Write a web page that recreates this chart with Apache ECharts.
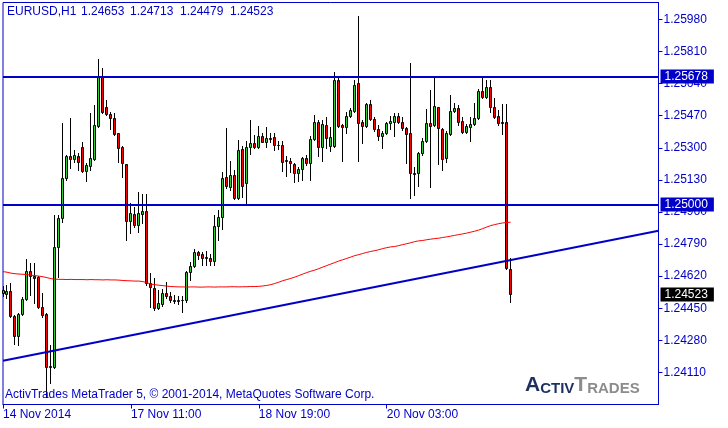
<!DOCTYPE html>
<html><head><meta charset="utf-8">
<script src="https://cdn.jsdelivr.net/npm/echarts@6/dist/echarts.min.js"></script>
<style>html,body{margin:0;padding:0;background:#fff}#c{width:728px;height:428px}</style>
</head><body><div id="c"></div>
<script>
const symbolName = 'EURUSD,H1';
const copyrightText = 'ActivTrades MetaTrader 5, \u00a9 2001-2014, MetaQuotes Software Corp.';

const opens = [1.24530,1.24525,1.24541,1.24408,1.24302,1.24419,1.24498,1.24646,1.24620,1.24615,
1.24456,1.24419,1.24138,1.24138,1.24774,1.24927,1.25139,1.25256,1.25240,1.25256,
1.25303,1.25176,1.25203,1.25240,1.25415,1.25679,1.25515,1.25478,1.25457,1.25377,
1.25303,1.25213,1.24911,1.24948,1.24890,1.24948,1.24964,1.24583,1.24556,1.24451,
1.24472,1.24530,1.24514,1.24493,1.24488,1.24493,1.24493,1.24641,1.24673,1.24747,
1.24737,1.24715,1.24715,1.24700,1.24885,1.24933,1.25144,1.25092,1.25155,1.25033,
1.25293,1.25113,1.25303,1.25324,1.25303,1.25362,1.25330,1.25346,1.25356,1.25314,
1.25314,1.25229,1.25229,1.25213,1.25166,1.25187,1.25245,1.25219,1.25346,1.25436,
1.25303,1.25420,1.25309,1.25309,1.25658,1.25420,1.25409,1.25468,1.25494,1.25642,
1.25436,1.25415,1.25531,1.25452,1.25399,1.25362,1.25377,1.25430,1.25436,1.25468,
1.25436,1.25404,1.25377,1.25166,1.25166,1.25272,1.25335,1.25430,1.25420,1.25515,
1.25399,1.25245,1.25372,1.25494,1.25510,1.25441,1.25383,1.25409,1.25425,1.25457,
1.25600,1.25568,1.25621,1.25515,1.25468,1.25436,1.25436,1.24653];

const highs = [1.24567,1.24572,1.24583,1.24413,1.24424,1.24509,1.24710,1.24689,1.24689,1.24620,
1.24530,1.24424,1.24254,1.24943,1.24943,1.25430,1.25261,1.25457,1.25287,1.25272,
1.25330,1.25219,1.25483,1.25526,1.25770,1.25722,1.25552,1.25489,1.25483,1.25377,
1.25309,1.25213,1.25007,1.24985,1.25065,1.25054,1.25054,1.24636,1.24609,1.24546,
1.24551,1.24588,1.24535,1.24519,1.24514,1.24514,1.24646,1.24694,1.24763,1.24752,
1.24747,1.24752,1.24737,1.24943,1.24970,1.25171,1.25404,1.25229,1.25182,1.25340,
1.25309,1.25335,1.25446,1.25367,1.25415,1.25377,1.25409,1.25377,1.25377,1.25335,
1.25335,1.25256,1.25245,1.25219,1.25197,1.25250,1.25261,1.25362,1.25473,1.25446,
1.25446,1.25462,1.25409,1.25701,1.25679,1.25425,1.25489,1.25510,1.25658,1.25997,
1.25446,1.25536,1.25552,1.25462,1.25420,1.25388,1.25436,1.25468,1.25483,1.25483,
1.25462,1.25409,1.25748,1.25197,1.25277,1.25351,1.25505,1.25605,1.25674,1.25515,
1.25404,1.25388,1.25579,1.25536,1.25526,1.25462,1.25425,1.25462,1.25536,1.25611,
1.25674,1.25658,1.25658,1.25563,1.25499,1.25531,1.25531,1.24713];

const lows = [1.24514,1.24504,1.24403,1.24260,1.24254,1.24413,1.24493,1.24519,1.24477,1.24451,
1.24403,1.23979,1.24053,1.24133,1.24615,1.24906,1.25129,1.25192,1.25224,1.25182,
1.25171,1.25123,1.25182,1.25235,1.25409,1.25483,1.25473,1.25399,1.25367,1.25224,
1.25144,1.24811,1.24848,1.24880,1.24853,1.24901,1.24572,1.24456,1.24440,1.24445,
1.24461,1.24504,1.24482,1.24477,1.24472,1.24429,1.24482,1.24599,1.24668,1.24710,
1.24678,1.24678,1.24678,1.24678,1.24811,1.24869,1.25086,1.25076,1.25028,1.25028,
1.25039,1.25007,1.25266,1.25298,1.25298,1.25330,1.25303,1.25330,1.25287,1.25293,
1.25176,1.25150,1.25171,1.25118,1.25123,1.25129,1.25208,1.25129,1.25340,1.25256,
1.25229,1.25298,1.25282,1.25303,1.25409,1.25229,1.25377,1.25462,1.25489,1.25229,
1.25324,1.25409,1.25446,1.25388,1.25340,1.25298,1.25372,1.25399,1.25362,1.25430,
1.25393,1.25219,1.25033,1.25049,1.25097,1.25261,1.25330,1.25092,1.25415,1.25213,
1.25182,1.25224,1.25367,1.25489,1.25420,1.25377,1.25377,1.25335,1.25420,1.25452,
1.25563,1.25563,1.25489,1.25457,1.25420,1.25372,1.24657,1.24479];

const closes = [1.24546,1.24541,1.24408,1.24302,1.24419,1.24498,1.24646,1.24620,1.24609,1.24456,
1.24413,1.24138,1.24143,1.24774,1.24927,1.25139,1.25256,1.25240,1.25261,1.25224,
1.25176,1.25208,1.25245,1.25420,1.25679,1.25489,1.25478,1.25457,1.25372,1.25298,
1.25219,1.24911,1.24954,1.24890,1.24954,1.24964,1.24583,1.24562,1.24451,1.24477,
1.24530,1.24514,1.24493,1.24488,1.24493,1.24491,1.24641,1.24673,1.24747,1.24731,
1.24715,1.24721,1.24700,1.24885,1.24933,1.25139,1.25097,1.25155,1.25033,1.25287,
1.25097,1.25303,1.25324,1.25303,1.25362,1.25330,1.25351,1.25351,1.25314,1.25311,
1.25224,1.25232,1.25219,1.25166,1.25187,1.25245,1.25219,1.25346,1.25436,1.25303,
1.25425,1.25351,1.25356,1.25658,1.25415,1.25409,1.25468,1.25499,1.25632,1.25430,
1.25415,1.25531,1.25452,1.25399,1.25362,1.25377,1.25430,1.25441,1.25468,1.25436,
1.25404,1.25372,1.25166,1.25160,1.25272,1.25335,1.25430,1.25415,1.25521,1.25404,
1.25240,1.25377,1.25494,1.25510,1.25436,1.25383,1.25415,1.25425,1.25457,1.25600,
1.25568,1.25621,1.25515,1.25462,1.25430,1.25430,1.24662,1.24523];

const movingAverage = [1.24644,1.24641,1.24636,1.24633,1.24631,1.24630,1.24628,1.24625,1.24623,1.24620,
1.24617,1.24612,1.24607,1.24604,1.24603,1.24603,1.24602,1.24603,1.24602,1.24602,
1.24602,1.24601,1.24602,1.24601,1.24601,1.24600,1.24601,1.24600,1.24600,1.24599,
1.24597,1.24596,1.24595,1.24594,1.24594,1.24591,1.24586,1.24578,1.24575,1.24572,
1.24570,1.24567,1.24565,1.24564,1.24563,1.24563,1.24562,1.24563,1.24563,1.24562,
1.24562,1.24563,1.24563,1.24562,1.24563,1.24563,1.24563,1.24564,1.24564,1.24563,
1.24564,1.24564,1.24565,1.24565,1.24566,1.24568,1.24571,1.24575,1.24581,1.24588,
1.24596,1.24602,1.24608,1.24615,1.24623,1.24631,1.24639,1.24646,1.24652,1.24660,
1.24668,1.24676,1.24684,1.24692,1.24700,1.24707,1.24714,1.24721,1.24729,1.24734,
1.24740,1.24746,1.24751,1.24755,1.24760,1.24766,1.24771,1.24775,1.24777,1.24782,
1.24787,1.24792,1.24797,1.24803,1.24807,1.24809,1.24813,1.24816,1.24819,1.24821,
1.24825,1.24828,1.24832,1.24836,1.24840,1.24844,1.24848,1.24853,1.24858,1.24864,
1.24872,1.24880,1.24888,1.24893,1.24898,1.24902,1.24904,1.24906];

const trendIdx = [0, 164];
const trendValues = [1.24172, 1.24861];
const levelValues = [1.25678, 1.25000];

const timeLabelIdx = [0, 32, 64, 96];
const timeLabels = ['14 Nov 2014', '17 Nov 11:00', '18 Nov 19:00', '20 Nov 03:00'];
const priceTicks = [1.24110, 1.24280, 1.24450, 1.24620, 1.24790, 1.24960, 1.25130, 1.25300, 1.25470, 1.25640, 1.25810, 1.25980];

const SLOT_COUNT = 165;
const BLUE = '#0000c8';
const BULL = '#32cd32';
const BEAR = '#ff0000';
const FONT = '"Liberation Sans", Arial, sans-serif';

const cats = Array.from({length: SLOT_COUNT}, (_, i) => String(i));
const candleRows = opens.map((o, i) => [i, o, closes[i], lows[i], highs[i]]);
const last = opens.length - 1;
const isLabelIdx = (i) => timeLabelIdx.indexOf(i) >= 0;

const chart = echarts.init(document.getElementById('c'), null, {renderer: 'canvas'});

const titleX = [7, 81, 130, 180, 230];
const titleParts = [symbolName, opens[last].toFixed(5), highs[last].toFixed(5), lows[last].toFixed(5), closes[last].toFixed(5)];

const graphics = titleParts.map((t, i) => ({
  type: 'text', left: titleX[i], top: 6, z: 100, silent: true,
  style: {text: t, fill: BLUE, font: '12px ' + FONT}
}));
graphics.push({
  type: 'text', left: 5, top: 389, z: 100, silent: true,
  style: {text: copyrightText, fill: BLUE, font: '12px ' + FONT}
});
graphics.push({
  type: 'text', left: 525, top: 375, z: 100, silent: true,
  style: {
    text: '{a|A}{b|CTIV}{c|T}{d|RADES}',
    rich: {
      a: {fontSize: 21, fontWeight: 'bold', fill: '#1c2f5e', fontFamily: FONT, verticalAlign: 'bottom', lineHeight: 20},
      b: {fontSize: 15, fontWeight: 'bold', fill: '#1c2f5e', fontFamily: FONT, verticalAlign: 'bottom', lineHeight: 20},
      c: {fontSize: 21, fontWeight: 'bold', fill: '#8c8c8c', fontFamily: FONT, verticalAlign: 'bottom', lineHeight: 20},
      d: {fontSize: 15, fontWeight: 'bold', fill: '#8c8c8c', fontFamily: FONT, verticalAlign: 'bottom', lineHeight: 20}
    }
  }
});

function renderCandle(params, api) {
  const idx = api.value(0);
  const o = api.value(1), c = api.value(2), l = api.value(3), h = api.value(4);
  const pO = api.coord([idx, o]);
  const cx = Math.floor(pO[0]) + 0.5;
  const yO = pO[1];
  const yC = api.coord([idx, c])[1];
  const yL = api.coord([idx, l])[1];
  const yH = api.coord([idx, h])[1];
  const top = Math.floor(Math.min(yO, yC)) + 0.5;
  const bot = Math.floor(Math.max(yO, yC)) + 0.5;
  const fill = c >= o ? BULL : BEAR;
  return {
    type: 'group',
    children: [
      {type: 'line', shape: {x1: cx, y1: Math.floor(yH), x2: cx, y2: Math.floor(yL) + 1},
        style: {stroke: '#000', lineWidth: 1}},
      {type: 'rect', shape: {x: cx - 1, y: top, width: 2, height: bot - top},
        style: {fill: fill, stroke: '#000', lineWidth: 1}}
    ]
  };
}

const labelBase = {show: true, position: 'end', distance: 2, formatter: (p) => Number(p.value).toFixed(5),
  color: '#ffffff', padding: [1, 6, 0, 4], lineHeight: 13, fontFamily: FONT, fontSize: 12};

const markData = levelValues.map(v => ({
  yAxis: v,
  lineStyle: {color: BLUE, width: 2, type: 'solid'},
  label: Object.assign({}, labelBase, {backgroundColor: BLUE})
}));
markData.push({
  yAxis: closes[last],
  lineStyle: {color: 'rgba(0,0,0,0)', width: 1, type: 'solid'},
  label: Object.assign({}, labelBase, {backgroundColor: '#000000'})
});

const option = {
  animation: false,
  backgroundColor: '#ffffff',
  grid: {left: 2.5, right: 69.5, top: 2.5, bottom: 23.5, show: true, borderColor: BLUE, borderWidth: 1},
  xAxis: {
    type: 'category', data: cats, boundaryGap: false,
    axisLine: {show: true, lineStyle: {color: BLUE, width: 1}},
    axisTick: {show: true, interval: (i) => isLabelIdx(i), length: 4, lineStyle: {color: BLUE}},
    axisLabel: {
      interval: (i) => isLabelIdx(i),
      formatter: (v, i) => timeLabels[timeLabelIdx.indexOf(i)] || '',
      align: 'left', color: BLUE, fontFamily: FONT, fontSize: 12, margin: 4
    },
    splitLine: {show: false}
  },
  yAxis: {
    type: 'value', position: 'right', min: 1.2394, max: 1.2607, interval: 0.0017,
    axisLine: {show: true, lineStyle: {color: BLUE, width: 1}},
    axisTick: {show: true, length: 4, lineStyle: {color: BLUE}, customValues: priceTicks},
    axisLabel: {customValues: priceTicks, formatter: (v) => Number(v).toFixed(5), color: BLUE, fontFamily: FONT, fontSize: 12, margin: 5},
    splitLine: {show: false}
  },
  graphic: graphics,
  series: [
    {
      type: 'custom', data: candleRows, renderItem: renderCandle, silent: true, z: 2,
      encode: {x: 0, y: [1, 2, 3, 4]}
    },
    {
      type: 'line', data: movingAverage, showSymbol: false, silent: true, z: 3,
      lineStyle: {color: '#ff0000', width: 1}
    },
    {
      type: 'line', data: trendIdx.map((x, i) => [x, trendValues[i]]), showSymbol: false, silent: true, z: 4,
      lineStyle: {color: BLUE, width: 2},
      markLine: {
        silent: true, symbol: ['none', 'none'], animation: false, precision: 5,
        data: markData
      }
    }
  ]
};
chart.setOption(option);
</script>
</body></html>
